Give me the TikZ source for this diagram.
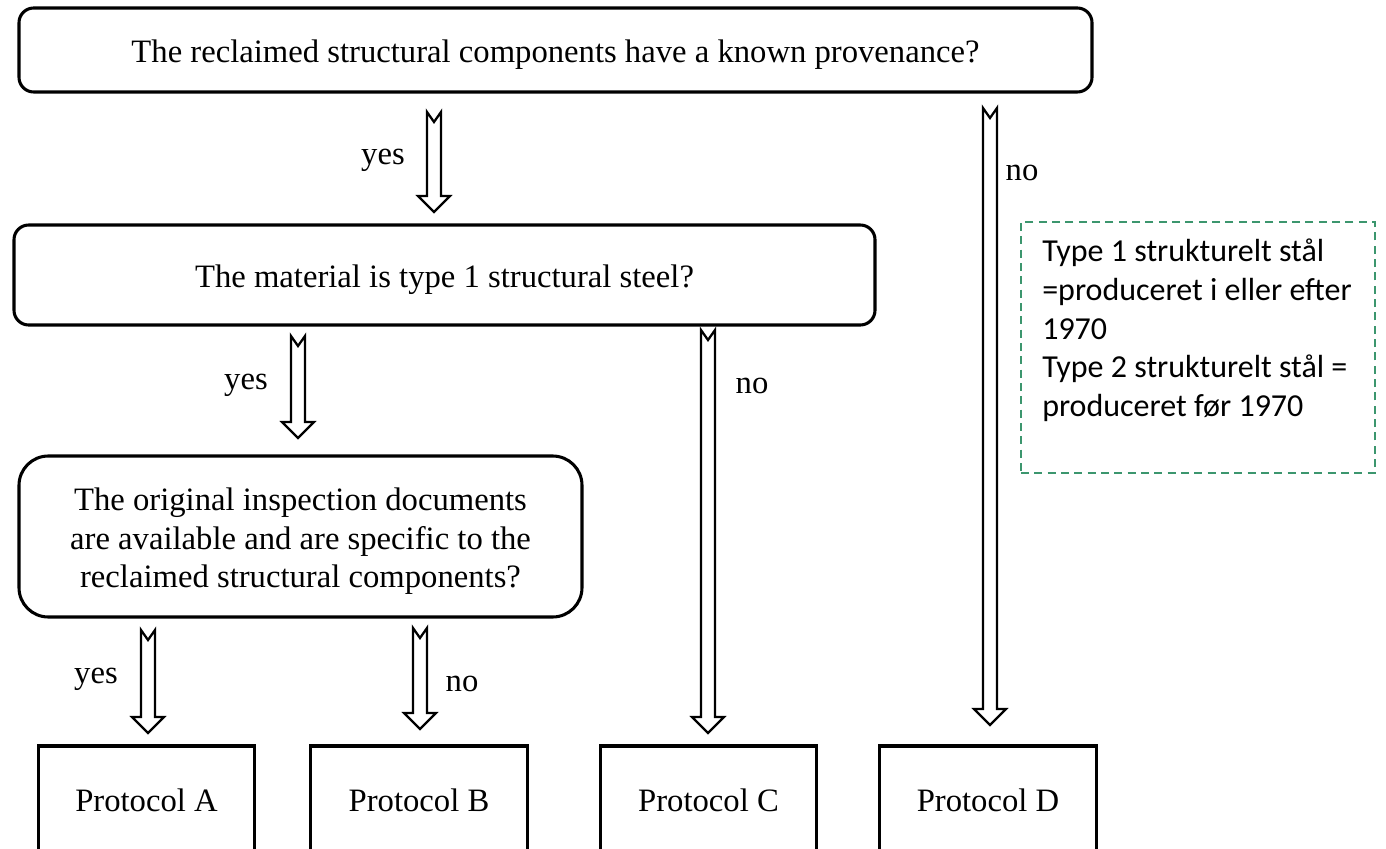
\documentclass[tikz,border=0pt]{standalone}
\usepackage{fontspec}
\setmainfont{Liberation Serif}
\newfontfamily\notefont{Carlito}
\usetikzlibrary{calc}
\definecolor{dashgreen}{RGB}{60,150,110}
\tikzset{
  qbox/.style={draw=black, line width=2.3pt, rounded corners=11pt, align=center, inner sep=0pt},
  pbox/.style={draw=black, line width=2.3pt, minimum width=162.5pt, minimum height=81pt, inner sep=0pt},
  lbl/.style={inner sep=0pt},
  harrow/.style={line width=1.7pt, to path={
    let \p1=(\tikztostart), \p2=(\tikztotarget) in
    (\x1-5.25pt,\y1) -- (\x1,\y1-7.5pt) -- (\x1+5.25pt,\y1) -- (\x1+5.25pt,\y2+12pt)
    -- (\x1+12pt,\y2+12pt) -- (\x1,\y2) -- (\x1-12pt,\y2+12pt) -- (\x1-5.25pt,\y2+12pt) -- cycle}}
}
\begin{document}
\begin{tikzpicture}[x=0.75pt,y=-0.75pt, font=\fontsize{24.5}{29}\selectfont]
\useasboundingbox (0,0) rectangle (1386,849);
\clip (0,0) rectangle (1386,849);
% question boxes
\node[qbox, minimum width=804.75pt, minimum height=63pt] (q1) at (555.5,50) {\raisebox{-3.5pt}[\height][\depth]{The reclaimed structural components have a known provenance?}};
\node[qbox, minimum width=645.75pt, minimum height=75pt] (q2) at (444.5,275) {\raisebox{-3.5pt}[\height][\depth]{The material is type 1 structural steel?}};
\node[qbox, rounded corners=22pt, minimum width=422.25pt, minimum height=120.75pt] (q3) at (300.5,536.5) {\raisebox{-3.75pt}[\height][\depth]{\begin{tabular}{@{}c@{}}The original inspection documents\\are available and are specific to the\\reclaimed structural components?\end{tabular}}};
% protocol boxes
\node[pbox] (pa) at (146.5,800) {Protocol A};
\node[pbox] (pb) at (419,800) {Protocol B};
\node[pbox] (pc) at (708.5,800) {Protocol C};
\node[pbox] (pd) at (988,800) {Protocol D};
% arrow end points
\coordinate (a1s) at (434,112); \coordinate (a1e) at (434,212);
\coordinate (a2s) at (990,108); \coordinate (a2e) at (990,725);
\coordinate (a3s) at (298,336); \coordinate (a3e) at (298,438);
\coordinate (a4s) at (708,330); \coordinate (a4e) at (708,733);
\coordinate (a5s) at (148,630); \coordinate (a5e) at (148,733);
\coordinate (a6s) at (420,628); \coordinate (a6e) at (420,729);
\draw[harrow] (a1s) to (a1e);
\draw[harrow] (a2s) to (a2e);
\draw[harrow] (a3s) to (a3e);
\draw[harrow] (a4s) to (a4e);
\draw[harrow] (a5s) to (a5e);
\draw[harrow] (a6s) to (a6e);
% labels
\node[lbl] (l1) at (383,160) {yes};
\node[lbl] (l2) at (1022,173) {no};
\node[lbl] (l3) at (246,385) {yes};
\node[lbl] (l4) at (752,386) {no};
\node[lbl] (l5) at (96,679) {yes};
\node[lbl] (l6) at (462,684) {no};
% note
\node[draw=dashgreen, line width=1.5pt, dash pattern=on 6pt off 4pt, minimum width=265.5pt, minimum height=188.25pt, inner sep=0pt] (note) at (1198,347.5) {};
\node[anchor=north west, align=left, inner sep=0pt, font=\notefont\fontsize{24}{29}\selectfont] (notetext) at (1042,239) {Type 1 strukturelt stål\\=produceret i eller efter\\1970\\Type 2 strukturelt stål =\\produceret før 1970};
\end{tikzpicture}
\end{document}
